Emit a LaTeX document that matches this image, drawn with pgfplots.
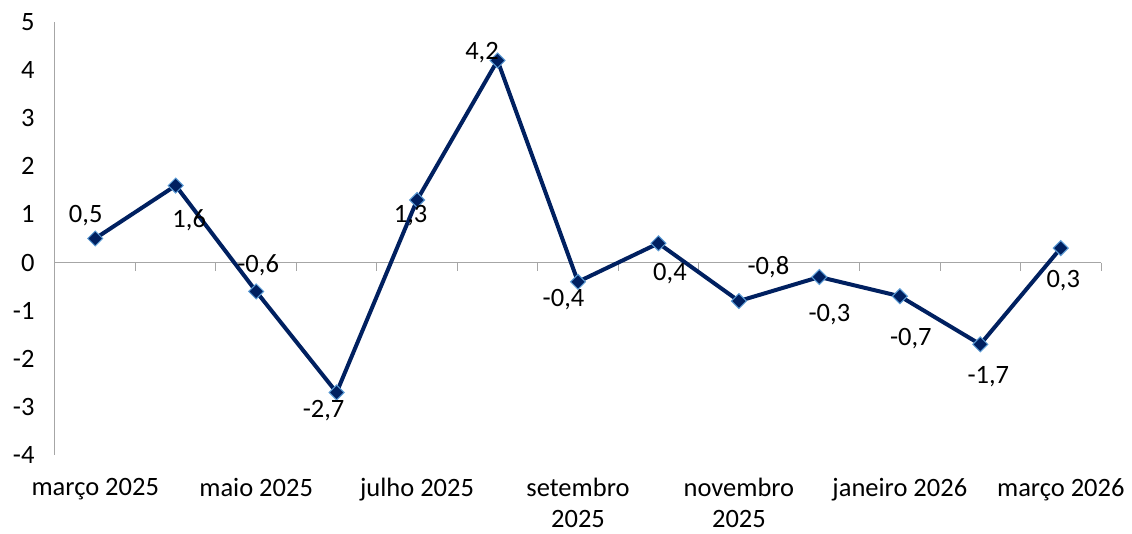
\documentclass[border=0pt]{standalone}
\usepackage{pgfplots}
\usepackage{pgfplotstable}
\pgfplotsset{compat=1.18}
\usepackage{fontspec}
\setmainfont{Carlito}
\definecolor{navy}{HTML}{002060}
\definecolor{mk}{HTML}{5B9BD5}
\definecolor{ax}{HTML}{A6A6A6}

\pgfplotstableread{
x y dx dy lab
0 0.5 -9.5 22.5 0,5
1 1.6 13.5 -35 1,6
2 -0.6 2 26 -0,6
3 -2.7 -13 -18.5 -2,7
4 1.3 -6.5 -15.3 1,3
5 4.2 -15.5 8 4,2
6 -0.4 -14.5 -18 -0,4
7 0.4 11.5 -30.5 0,4
8 -0.8 29.5 34 -0,8
9 -0.3 10 -38 -0,3
10 -0.7 11 -42 -0,7
11 -1.7 8 -32.5 -1,7
12 0.3 2.5 -32.7 0,3
}\datatable

\begin{document}
\begin{tikzpicture}
\begin{axis}[
  scale only axis,
  width=1046pt, height=433pt,
  xmin=-0.5, xmax=12.5,
  ymin=-4, ymax=5,
  clip=false,
  axis x line*=bottom,
  axis y line*=left,
  x axis line style={draw=none},
  y axis line style={ax, line width=1pt},
  major tick length=0pt,
  xtick={0,2,4,6,8,10,12},
  xticklabels={mar\c{c}o 2025, maio 2025, julho 2025, setembro\\2025, novembro\\2025, janeiro 2026, mar\c{c}o 2026},
  xticklabel style={align=center, font=\fontsize{26.5}{31}\selectfont, anchor=north, yshift=-20pt},
  ytick={-4,-3,-2,-1,0,1,2,3,4,5},
  yticklabels={-4,-3,-2,-1,0,1,2,3,4,5},
  yticklabel style={font=\fontsize{26.5}{31}\selectfont, xshift=-17pt},
]
\draw[ax, line width=1pt] (axis cs:-0.5,0) -- (axis cs:12.5,0);
\pgfplotsinvokeforeach{-0.5,0.5,...,12.5}{\draw[ax, line width=1pt] (axis cs:#1,0) -- ++(0pt,-8pt);}
\addplot[
  navy, line width=4pt,
  mark=square*, mark size=5.3pt,
  mark options={rotate=45, fill=navy, draw=mk, line width=1pt},
  point meta=explicit symbolic,
  visualization depends on={\thisrow{dx} \as \dx},
  visualization depends on={\thisrow{dy} \as \dy},
  nodes near coords,
  nodes near coords align={center},
  every node near coord/.append style={anchor=center, xshift=\dx pt, yshift=\dy pt, text=black, font=\fontsize{26.5}{31}\selectfont, inner sep=0pt},
] table[x=x, y=y, meta=lab] {\datatable};
\end{axis}
\pgfresetboundingbox
\path[use as bounding box] ([shift={(-55pt,-79pt)}]current axis.south west) rectangle ([shift={(31pt,22pt)}]current axis.north east);
\end{tikzpicture}
\end{document}
